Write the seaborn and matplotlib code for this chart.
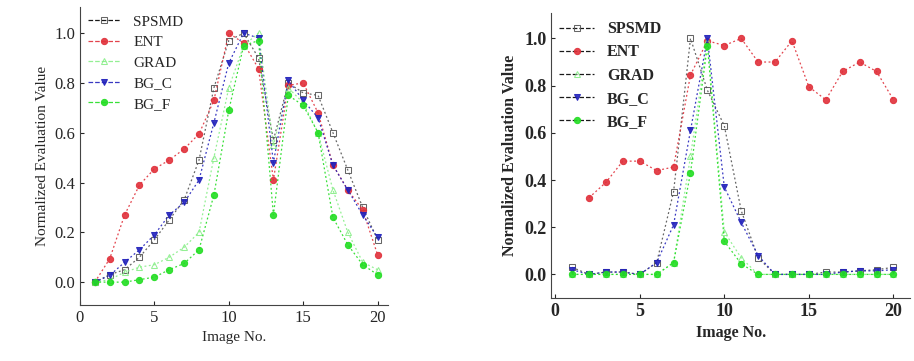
import numpy as np
import pandas as pd
import seaborn as sns
import matplotlib.pyplot as plt

image_no = list(range(1, 21))
methods = ["SPSMD", "ENT", "GRAD", "BG_C", "BG_F"]

# left panel
left_spsmd = [0.0, 0.03, 0.05, 0.10, 0.17, 0.25, 0.33, 0.49, 0.78, 0.97, 1.0, 0.90, 0.57, 0.80, 0.76, 0.75, 0.60, 0.45, 0.30, 0.17]
left_ent = [0.0, 0.094, 0.27, 0.39, 0.455, 0.49, 0.535, 0.595, 0.73, 1.0, 0.96, 0.857, 0.41, 0.79, 0.80, 0.68, 0.47, 0.37, 0.29, 0.11]
left_grad = [0.0, 0.01, 0.04, 0.06, 0.07, 0.10, 0.14, 0.20, 0.50, 0.78, 0.95, 1.0, 0.55, 0.78, 0.72, 0.60, 0.37, 0.20, 0.08, 0.05]
left_bgc = [0.0, 0.027, 0.08, 0.13, 0.19, 0.27, 0.32, 0.41, 0.64, 0.88, 1.0, 0.98, 0.48, 0.81, 0.73, 0.66, 0.47, 0.37, 0.27, 0.18]
left_bgf = [0.0, 0.0, 0.0, 0.01, 0.02, 0.05, 0.075, 0.13, 0.35, 0.69, 0.95, 0.97, 0.27, 0.75, 0.71, 0.60, 0.26, 0.15, 0.07, 0.03]

# right panel
right_spsmd = [0.03, 0.0, 0.01, 0.01, 0.0, 0.05, 0.35, 1.0, 0.78, 0.63, 0.27, 0.07, 0.0, 0.0, 0.0, 0.01, 0.01, 0.015, 0.02, 0.03]
right_ent = [np.nan, 0.325, 0.39, 0.48, 0.48, 0.44, 0.455, 0.845, 0.99, 0.97, 1.0, 0.90, 0.90, 0.99, 0.795, 0.74, 0.86, 0.90, 0.86, 0.74]
right_grad = [0.0, 0.0, 0.0, 0.0, 0.0, 0.0, 0.05, 0.50, 0.99, 0.18, 0.07, 0.0, 0.0, 0.0, 0.0, 0.0, 0.0, 0.0, 0.0, 0.0]
right_bgc = [0.02, 0.0, 0.01, 0.01, 0.0, 0.05, 0.21, 0.61, 1.0, 0.37, 0.22, 0.08, 0.0, 0.0, 0.0, 0.0, 0.01, 0.015, 0.015, 0.02]
right_bgf = [0.0, 0.0, 0.0, 0.0, 0.0, 0.0, 0.05, 0.43, 0.97, 0.14, 0.045, 0.0, 0.0, 0.0, 0.0, 0.0, 0.0, 0.0, 0.0, 0.0]

colors = {"SPSMD": "#555555", "ENT": "#e0303a", "GRAD": "#88ee88", "BG_C": "#2222bb", "BG_F": "#22dd22"}
markers = {"SPSMD": "s", "ENT": "o", "GRAD": "^", "BG_C": "v", "BG_F": "o"}
open_markers = {"SPSMD", "GRAD"}

sns.set_style("white")
plt.rcParams["font.family"] = ["Liberation Serif", "DejaVu Serif"]

fig = plt.figure(figsize=(9.14, 3.61), dpi=100)
ax1 = fig.add_axes([0.0875, 0.155, 0.337, 0.825])
ax2 = fig.add_axes([0.603, 0.1745, 0.393, 0.789])


def draw(ax, values, bold):
    df = pd.DataFrame({"Image No.": image_no * 5,
                       "value": sum(values, []),
                       "method": sum([[m] * 20 for m in methods], [])})
    for m in methods:
        sub = df[df["method"] == m]
        sns.lineplot(data=sub, x="Image No.", y="value", ax=ax, color=colors[m],
                     marker=markers[m], markersize=4.5, linewidth=0.9,
                     linestyle=(0, (1.5, 2)), alpha=0.9,
                     markerfacecolor="none" if m in open_markers else colors[m],
                     markeredgecolor=colors[m], label=m)
    weight = "bold" if bold else "normal"
    leg = ax.legend(loc="upper left", frameon=False, handlelength=2.2,
                    labelspacing=0.45, borderaxespad=0.1,
                    prop={"weight": weight, "size": 11.5 if bold else 11})
    for h, m in zip(leg.get_lines(), methods):
        h.set_linestyle("--")
        h.set_color("black" if bold or m == "SPSMD" else colors[m])
        h.set_markeredgecolor(colors[m])
        h.set_markerfacecolor("none" if m in open_markers else colors[m])
    ax.set_xticks([0, 5, 10, 15, 20])
    ax.set_yticks([0.0, 0.2, 0.4, 0.6, 0.8, 1.0])
    ax.set_yticklabels(["0.0", "0.2", "0.4", "0.6", "0.8", "1.0"])
    ax.set_xlabel("Image No.", fontsize=11.5 if bold else 11, fontweight=weight)
    ax.set_ylabel("Normalized Evaluation Value", fontsize=11.5 if bold else 11, fontweight=weight)
    ax.tick_params(labelsize=13 if bold else 12, direction="in", length=3, left=True, bottom=True)
    for lab in ax.get_xticklabels() + ax.get_yticklabels():
        lab.set_fontweight(weight)
    ax.spines["top"].set_visible(False)
    ax.spines["right"].set_visible(False)
    ax.spines["left"].set_color("#444444")
    ax.spines["bottom"].set_color("#444444")


draw(ax1, [left_spsmd, left_ent, left_grad, left_bgc, left_bgf], False)
ax1.set_xlim(0, 20.7)
ax1.set_ylim(-0.092, 1.104)

draw(ax2, [right_spsmd, right_ent, right_grad, right_bgc, right_bgf], True)
ax2.set_xlim(-0.24, 21)
ax2.set_ylim(-0.10, 1.107)

fig.savefig("out.png", dpi=100)
